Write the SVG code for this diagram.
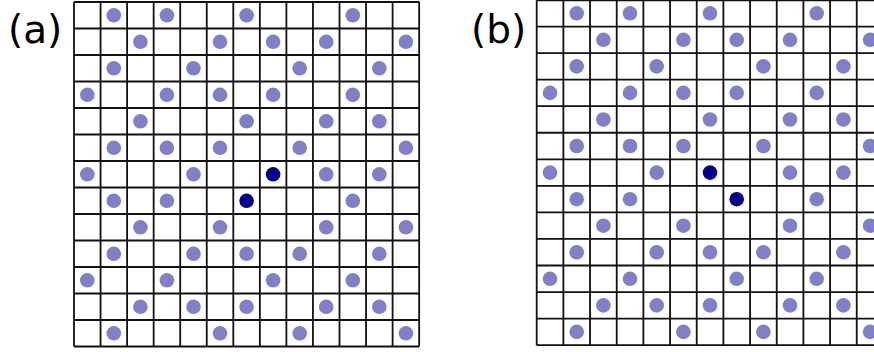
<svg xmlns="http://www.w3.org/2000/svg" width="874" height="352" viewBox="0 0 874 352">
<style>
.bg{fill:#ffffff}
.grid{fill:none;stroke:#111111;stroke-width:1.8}
.d{fill:#8080c8}
.k{fill:#00008b}
.lbl{font-family:"DejaVu Sans",sans-serif;font-size:39px;fill:#000}
</style>
<rect class="bg" x="0" y="0" width="874" height="352"/>
<g id="label-a"><text class="lbl" x="8" y="43">(a)</text></g>
<g id="label-b"><text class="lbl" x="471" y="43">(b)</text></g>
<g id="panel-a">
<path class="grid" d="M74,2V346.5M100.55,2V346.5M127.1,2V346.5M153.65,2V346.5M180.2,2V346.5M206.75,2V346.5M233.3,2V346.5M259.85,2V346.5M286.4,2V346.5M312.95,2V346.5M339.5,2V346.5M366.05,2V346.5M392.6,2V346.5M419.15,2V346.5M74,2H419.15M74,28.5H419.15M74,55H419.15M74,81.5H419.15M74,108H419.15M74,134.5H419.15M74,161H419.15M74,187.5H419.15M74,214H419.15M74,240.5H419.15M74,267H419.15M74,293.5H419.15M74,320H419.15M74,346.5H419.15"/>
<g id="dots-a">
<circle class="d" cx="113.8" cy="15.3" r="7.3"/><circle class="d" cx="166.9" cy="15.3" r="7.3"/><circle class="d" cx="246.6" cy="15.3" r="7.3"/><circle class="d" cx="352.8" cy="15.3" r="7.3"/>
<circle class="d" cx="140.4" cy="41.8" r="7.3"/><circle class="d" cx="220.0" cy="41.8" r="7.3"/><circle class="d" cx="273.1" cy="41.8" r="7.3"/><circle class="d" cx="326.2" cy="41.8" r="7.3"/><circle class="d" cx="405.9" cy="41.8" r="7.3"/>
<circle class="d" cx="113.8" cy="68.3" r="7.3"/><circle class="d" cx="193.5" cy="68.3" r="7.3"/><circle class="d" cx="299.7" cy="68.3" r="7.3"/><circle class="d" cx="379.3" cy="68.3" r="7.3"/>
<circle class="d" cx="87.3" cy="94.8" r="7.3"/><circle class="d" cx="166.9" cy="94.8" r="7.3"/><circle class="d" cx="220.0" cy="94.8" r="7.3"/><circle class="d" cx="273.1" cy="94.8" r="7.3"/><circle class="d" cx="352.8" cy="94.8" r="7.3"/>
<circle class="d" cx="140.4" cy="121.3" r="7.3"/><circle class="d" cx="246.6" cy="121.3" r="7.3"/><circle class="d" cx="326.2" cy="121.3" r="7.3"/><circle class="d" cx="379.3" cy="121.3" r="7.3"/>
<circle class="d" cx="113.8" cy="147.8" r="7.3"/><circle class="d" cx="166.9" cy="147.8" r="7.3"/><circle class="d" cx="220.0" cy="147.8" r="7.3"/><circle class="d" cx="299.7" cy="147.8" r="7.3"/><circle class="d" cx="405.9" cy="147.8" r="7.3"/>
<circle class="d" cx="87.3" cy="174.3" r="7.3"/><circle class="d" cx="193.5" cy="174.3" r="7.3"/><circle class="k" cx="273.1" cy="174.3" r="7.3"/><circle class="d" cx="326.2" cy="174.3" r="7.3"/><circle class="d" cx="379.3" cy="174.3" r="7.3"/>
<circle class="d" cx="113.8" cy="200.8" r="7.3"/><circle class="d" cx="166.9" cy="200.8" r="7.3"/><circle class="k" cx="246.6" cy="200.8" r="7.3"/><circle class="d" cx="352.8" cy="200.8" r="7.3"/>
<circle class="d" cx="140.4" cy="227.3" r="7.3"/><circle class="d" cx="220.0" cy="227.3" r="7.3"/><circle class="d" cx="326.2" cy="227.3" r="7.3"/><circle class="d" cx="405.9" cy="227.3" r="7.3"/>
<circle class="d" cx="113.8" cy="253.8" r="7.3"/><circle class="d" cx="193.5" cy="253.8" r="7.3"/><circle class="d" cx="246.6" cy="253.8" r="7.3"/><circle class="d" cx="299.7" cy="253.8" r="7.3"/><circle class="d" cx="379.3" cy="253.8" r="7.3"/>
<circle class="d" cx="87.3" cy="280.3" r="7.3"/><circle class="d" cx="166.9" cy="280.3" r="7.3"/><circle class="d" cx="273.1" cy="280.3" r="7.3"/><circle class="d" cx="352.8" cy="280.3" r="7.3"/>
<circle class="d" cx="140.4" cy="306.8" r="7.3"/><circle class="d" cx="193.5" cy="306.8" r="7.3"/><circle class="d" cx="246.6" cy="306.8" r="7.3"/><circle class="d" cx="326.2" cy="306.8" r="7.3"/><circle class="d" cx="379.3" cy="306.8" r="7.3"/>
<circle class="d" cx="113.8" cy="333.3" r="7.3"/><circle class="d" cx="220.0" cy="333.3" r="7.3"/><circle class="d" cx="299.7" cy="333.3" r="7.3"/><circle class="d" cx="405.9" cy="333.3" r="7.3"/>
</g>
</g>
<g id="panel-b">
<path class="grid" d="M536.7,0.3V345.2M563.37,0.3V345.2M590.04,0.3V345.2M616.71,0.3V345.2M643.38,0.3V345.2M670.05,0.3V345.2M696.72,0.3V345.2M723.39,0.3V345.2M750.06,0.3V345.2M776.73,0.3V345.2M803.4,0.3V345.2M830.07,0.3V345.2M856.74,0.3V345.2M883.41,0.3V345.2M536.7,0.3H883.41M536.7,26.55H883.41M536.7,53.1H883.41M536.7,79.65H883.41M536.7,106.2H883.41M536.7,132.75H883.41M536.7,159.3H883.41M536.7,185.85H883.41M536.7,212.4H883.41M536.7,238.95H883.41M536.7,265.5H883.41M536.7,292.05H883.41M536.7,318.6H883.41M536.7,345.2H883.41"/>
<g id="dots-b">
<circle class="d" cx="576.7" cy="13.3" r="7.3"/><circle class="d" cx="630.0" cy="13.3" r="7.3"/><circle class="d" cx="710.0" cy="13.3" r="7.3"/><circle class="d" cx="816.7" cy="13.3" r="7.3"/>
<circle class="d" cx="603.4" cy="39.8" r="7.3"/><circle class="d" cx="683.4" cy="39.8" r="7.3"/><circle class="d" cx="736.7" cy="39.8" r="7.3"/><circle class="d" cx="790.0" cy="39.8" r="7.3"/><circle class="d" cx="870.1" cy="39.8" r="7.3"/>
<circle class="d" cx="576.7" cy="66.4" r="7.3"/><circle class="d" cx="656.7" cy="66.4" r="7.3"/><circle class="d" cx="763.4" cy="66.4" r="7.3"/><circle class="d" cx="843.4" cy="66.4" r="7.3"/>
<circle class="d" cx="550.0" cy="92.9" r="7.3"/><circle class="d" cx="630.0" cy="92.9" r="7.3"/><circle class="d" cx="683.4" cy="92.9" r="7.3"/><circle class="d" cx="736.7" cy="92.9" r="7.3"/><circle class="d" cx="816.7" cy="92.9" r="7.3"/>
<circle class="d" cx="603.4" cy="119.5" r="7.3"/><circle class="d" cx="710.0" cy="119.5" r="7.3"/><circle class="d" cx="790.0" cy="119.5" r="7.3"/><circle class="d" cx="843.4" cy="119.5" r="7.3"/>
<circle class="d" cx="576.7" cy="146.0" r="7.3"/><circle class="d" cx="630.0" cy="146.0" r="7.3"/><circle class="d" cx="683.4" cy="146.0" r="7.3"/><circle class="d" cx="763.4" cy="146.0" r="7.3"/><circle class="d" cx="870.1" cy="146.0" r="7.3"/>
<circle class="d" cx="550.0" cy="172.6" r="7.3"/><circle class="d" cx="656.7" cy="172.6" r="7.3"/><circle class="k" cx="710.0" cy="172.6" r="7.3"/><circle class="d" cx="790.0" cy="172.6" r="7.3"/><circle class="d" cx="843.4" cy="172.6" r="7.3"/>
<circle class="d" cx="576.7" cy="199.2" r="7.3"/><circle class="d" cx="630.0" cy="199.2" r="7.3"/><circle class="k" cx="736.7" cy="199.2" r="7.3"/><circle class="d" cx="816.7" cy="199.2" r="7.3"/>
<circle class="d" cx="603.4" cy="225.7" r="7.3"/><circle class="d" cx="683.4" cy="225.7" r="7.3"/><circle class="d" cx="790.0" cy="225.7" r="7.3"/><circle class="d" cx="870.1" cy="225.7" r="7.3"/>
<circle class="d" cx="576.7" cy="252.3" r="7.3"/><circle class="d" cx="656.7" cy="252.3" r="7.3"/><circle class="d" cx="710.0" cy="252.3" r="7.3"/><circle class="d" cx="763.4" cy="252.3" r="7.3"/><circle class="d" cx="843.4" cy="252.3" r="7.3"/>
<circle class="d" cx="550.0" cy="278.8" r="7.3"/><circle class="d" cx="630.0" cy="278.8" r="7.3"/><circle class="d" cx="736.7" cy="278.8" r="7.3"/><circle class="d" cx="816.7" cy="278.8" r="7.3"/>
<circle class="d" cx="603.4" cy="305.4" r="7.3"/><circle class="d" cx="656.7" cy="305.4" r="7.3"/><circle class="d" cx="710.0" cy="305.4" r="7.3"/><circle class="d" cx="790.0" cy="305.4" r="7.3"/><circle class="d" cx="843.4" cy="305.4" r="7.3"/>
<circle class="d" cx="576.7" cy="331.9" r="7.3"/><circle class="d" cx="683.4" cy="331.9" r="7.3"/><circle class="d" cx="763.4" cy="331.9" r="7.3"/><circle class="d" cx="870.1" cy="331.9" r="7.3"/>
</g>
</g>
</svg>
